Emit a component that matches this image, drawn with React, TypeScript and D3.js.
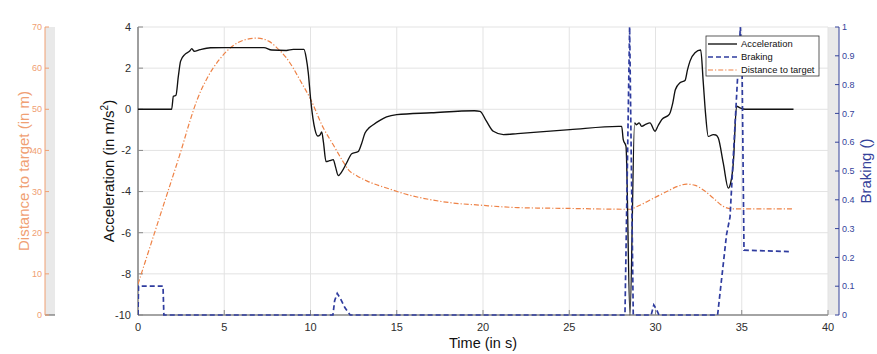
import React from 'react';
import * as d3 from 'd3';

// Acceleration (m/s^2) vs time (s)
const accTime = [0, 1.95, 2.05, 2.2, 2.34, 2.47, 2.72, 3.0, 3.12, 3.25, 3.6, 4.2, 5.0, 7.3, 7.75, 8.6, 9.0, 9.62, 9.75, 9.87, 10.01, 10.26, 10.42, 10.55, 10.65, 10.75, 10.9, 11.1, 11.32, 11.45, 11.61, 11.8, 12.1, 12.39, 12.77, 12.95, 13.16, 13.4, 13.64, 14.0, 14.41, 15.0, 17.0, 19.5, 19.83, 20.2, 20.6, 21.18, 22.0, 25.04, 27.85, 28.04, 28.13, 28.29, 28.52, 28.79, 28.9, 29.05, 29.2, 29.45, 29.68, 29.97, 30.15, 30.36, 30.8, 31.0, 31.15, 31.42, 31.71, 31.85, 32.0, 32.29, 32.62, 32.77, 32.9, 33.06, 33.35, 33.5, 33.64, 33.93, 34.22, 34.35, 34.51, 34.7, 34.9, 35.19, 38.0];
const accValue = [0, 0, 0.63, 0.68, 1.61, 2.34, 2.67, 2.83, 2.95, 2.82, 2.9, 2.99, 3.0, 3.0, 2.88, 2.86, 2.91, 2.91, 2.5, 1.78, 0.47, -0.99, -1.3, -1.25, -1.1, -1.6, -2.54, -2.5, -2.45, -2.8, -3.22, -3.05, -2.6, -2.16, -2.05, -1.7, -1.15, -0.9, -0.75, -0.55, -0.37, -0.26, -0.17, -0.07, -0.1, -0.58, -1.07, -1.23, -1.18, -0.99, -0.83, -0.83, -1.48, -1.8, -10, -0.66, -0.75, -0.66, -0.83, -0.72, -0.66, -1.07, -0.8, -0.5, -0.25, 0.3, 0.95, 1.29, 1.4, 1.9, 2.34, 2.75, 2.88, 1.29, -0.2, -1.32, -1.23, -1.25, -1.4, -2.62, -3.83, -3.6, -2.62, 0.15, 0.07, 0.0, 0.0];

// Braking (0..1) vs time (s)
const brkTime = [0, 0.03, 1.45, 1.5, 11.3, 11.4, 11.55, 11.75, 12.0, 12.3, 28.23, 28.5, 28.71, 29.75, 29.9, 30.05, 30.2, 33.6, 34.12, 34.32, 34.8, 34.92, 35.02, 35.13, 37.8];
const brkValue = [0, 0.1, 0.1, 0, 0, 0.05, 0.075, 0.055, 0.025, 0, 0, 1.0, 0, 0, 0.035, 0.02, 0, 0, 0.28, 0.34, 0.87, 1.0, 0.85, 0.225, 0.22];

// Distance to target (m) vs time (s)
const distTime = [0, 0.5, 1.0, 1.5, 1.95, 2.5, 3.0, 3.4, 4.0, 4.7, 5.43, 6.2, 6.9, 7.6, 8.04, 8.6, 9.0, 9.39, 10.0, 10.74, 11.3, 11.9, 12.2, 12.7, 13.26, 14.6, 15.5, 16.5, 18.09, 19.83, 22.0, 25.04, 28.52, 28.9, 29.8, 30.65, 31.3, 31.8, 32.3, 32.77, 33.35, 33.93, 34.42, 38.0];
const distValue = [7.5, 14, 20.5, 27, 32.8, 40, 47, 52, 57.5, 62, 65.2, 66.9, 67.3, 66.5, 65, 62.5, 60, 57.1, 52.5, 45.5, 41.5, 37.2, 35.3, 33.8, 32.6, 30.6, 29.4, 28.4, 27.3, 26.7, 26.1, 25.9, 25.7, 26.3, 28.2, 30, 31.3, 31.8, 31.5, 30.4, 28.4, 26.4, 25.8, 25.8];

const xTicks = [0, 5, 10, 15, 20, 25, 30, 35, 40];
const accTicks = [-10, -8, -6, -4, -2, 0, 2, 4];
const brkTicks = [0, 0.1, 0.2, 0.3, 0.4, 0.5, 0.6, 0.7, 0.8, 0.9, 1];
const distTicks = [0, 10, 20, 30, 40, 50, 60, 70];

const legendItems = ['Acceleration', 'Braking', 'Distance to target'];

export default function App() {
  const W = 877, H = 354;
  const L = 138, R = 828, T = 27, B = 315;
  const x = d3.scaleLinear().domain([0, 40]).range([L, R]);
  const yAcc = d3.scaleLinear().domain([-10, 4]).range([B, T]);
  const yBrk = d3.scaleLinear().domain([0, 1]).range([B, T]);
  const yDist = d3.scaleLinear().domain([0, 70]).range([B, T]);

  const accLine = d3.line<number>().x((_, i) => x(accTime[i])).y((d) => yAcc(d)).curve(d3.curveMonotoneX);
  const brkLine = d3.line<number>().x((_, i) => x(brkTime[i])).y((d) => yBrk(d));
  const distLine = d3.line<number>().x((_, i) => x(distTime[i])).y((d) => yDist(d)).curve(d3.curveMonotoneX);

  const black = '#111111';
  const blue = '#2f3c9f';
  const blueTxt = '#34429a';
  const orange = '#ee8246';
  const orangeTxt = '#f0a073';
  const tickTxt = '#2e2e2e';
  const spine = '#8a8a8a';
  const font = "'Liberation Sans', Arial, Helvetica, sans-serif";

  const lx = 706, ly = 36, lw = 113, lh = 40;
  const rowY = [44, 57, 70];

  return (
    <svg width={W} height={H} style={{ position: 'absolute', left: 0, top: 0, background: '#fff' }} fontFamily={font}>
      <defs>
        <clipPath id="plotClip">
          <rect x={L} y={T - 1} width={R - L} height={B - T + 2} />
        </clipPath>
      </defs>
      <rect x={0} y={0} width={W} height={H} fill="#ffffff" />
      {/* grey bands */}
      <rect x={45} y={T} width={10} height={B - T} fill="#e9e9e9" />
      <rect x={R} y={T} width={839 - R} height={B - T} fill="#e9e9e9" />
      <line x1={45} x2={55} y1={B} y2={B} stroke="#555" strokeWidth={1} />
      {/* plot background */}
      <rect x={L} y={T} width={R - L} height={B - T} fill="#ffffff" />
      {/* grid */}
      {xTicks.map((t) => (
        <line key={'gx' + t} x1={x(t)} x2={x(t)} y1={T} y2={B} stroke="#e3e3e3" strokeWidth={1} />
      ))}
      {accTicks.map((t) => (
        <line key={'gy' + t} x1={L} x2={R} y1={yAcc(t)} y2={yAcc(t)} stroke="#e3e3e3" strokeWidth={1} />
      ))}
      {/* main spines */}
      <line x1={L} x2={L} y1={T} y2={B} stroke={spine} strokeWidth={1.6} />
      <line x1={L} x2={R} y1={B} y2={B} stroke={spine} strokeWidth={1.3} />
      {xTicks.map((t) => (
        <line key={'tx' + t} x1={x(t)} x2={x(t)} y1={B} y2={B - 5} stroke={spine} strokeWidth={1} />
      ))}
      {accTicks.map((t) => (
        <line key={'ty' + t} x1={L} x2={L + 5} y1={yAcc(t)} y2={yAcc(t)} stroke={spine} strokeWidth={1} />
      ))}
      {/* data lines */}
      <g clipPath="url(#plotClip)">
        <path d={distLine(distValue) || ''} fill="none" stroke={orange} strokeWidth={1.2} strokeDasharray="5,2,1.2,2" />
        <path d={accLine(accValue) || ''} fill="none" stroke={black} strokeWidth={1.35} strokeLinejoin="round" />
        <path d={brkLine(brkValue) || ''} fill="none" stroke={blue} strokeWidth={1.7} strokeDasharray="5,3" />
      </g>
      {/* x tick labels */}
      {xTicks.map((t) => (
        <text key={'lx' + t} x={x(t)} y={331} fontSize={11} fill={tickTxt} textAnchor="middle">{t}</text>
      ))}
      {/* acc tick labels */}
      {accTicks.map((t) => (
        <text key={'la' + t} x={131} y={yAcc(t) + 3.8} fontSize={11} fill={tickTxt} textAnchor="end">{t}</text>
      ))}
      {/* left distance axis */}
      <line x1={45} x2={45} y1={T} y2={B} stroke={orangeTxt} strokeWidth={1} />
      {distTicks.map((t) => (
        <g key={'d' + t}>
          <line x1={45} x2={49} y1={yDist(t)} y2={yDist(t)} stroke={orangeTxt} strokeWidth={1} />
          <text x={42} y={yDist(t) + 3.2} fontSize={9} fill={orangeTxt} textAnchor="end">{t}</text>
        </g>
      ))}
      <text transform={`translate(29,${(T + B) / 2}) rotate(-90)`} fontSize={15} fill={orangeTxt} textAnchor="middle">Distance to target (in m)</text>
      {/* right braking axis */}
      <line x1={839} x2={839} y1={T} y2={B} stroke={blueTxt} strokeWidth={1} />
      {brkTicks.map((t) => (
        <g key={'b' + t}>
          <line x1={839} x2={835} y1={yBrk(t)} y2={yBrk(t)} stroke={blueTxt} strokeWidth={1} />
          <text x={842} y={yBrk(t) + 3.2} fontSize={9} fill={blueTxt} textAnchor="start">{t}</text>
        </g>
      ))}
      <text transform={`translate(871,${(T + B) / 2}) rotate(-90)`} fontSize={15} fill={blueTxt} textAnchor="middle">Braking ()</text>
      {/* axis labels */}
      <text transform={`translate(114,${(T + B) / 2}) rotate(-90)`} fontSize={15} fill="#111" textAnchor="middle">
        Acceleration (in m/s<tspan dy={-6} fontSize={10}>2</tspan><tspan dy={6}>)</tspan>
      </text>
      <text x={(L + R) / 2} y={348} fontSize={14.5} fill="#111" textAnchor="middle">Time (in s)</text>
      {/* legend */}
      <rect x={lx} y={ly} width={lw} height={lh} fill="#ffffff" stroke="#333" strokeWidth={0.8} />
      {legendItems.map((name, i) => (
        <g key={name}>
          <line x1={708} x2={737} y1={rowY[i]} y2={rowY[i]}
            stroke={i === 0 ? black : i === 1 ? blue : orange}
            strokeWidth={i === 1 ? 1.7 : i === 0 ? 1.35 : 1.2}
            strokeDasharray={i === 1 ? '5,3' : i === 2 ? '5,2,1.2,2' : undefined} />
          <text x={741} y={rowY[i] + 3.4} fontSize={9.4} fill="#111">{name}</text>
        </g>
      ))}
    </svg>
  );
}
